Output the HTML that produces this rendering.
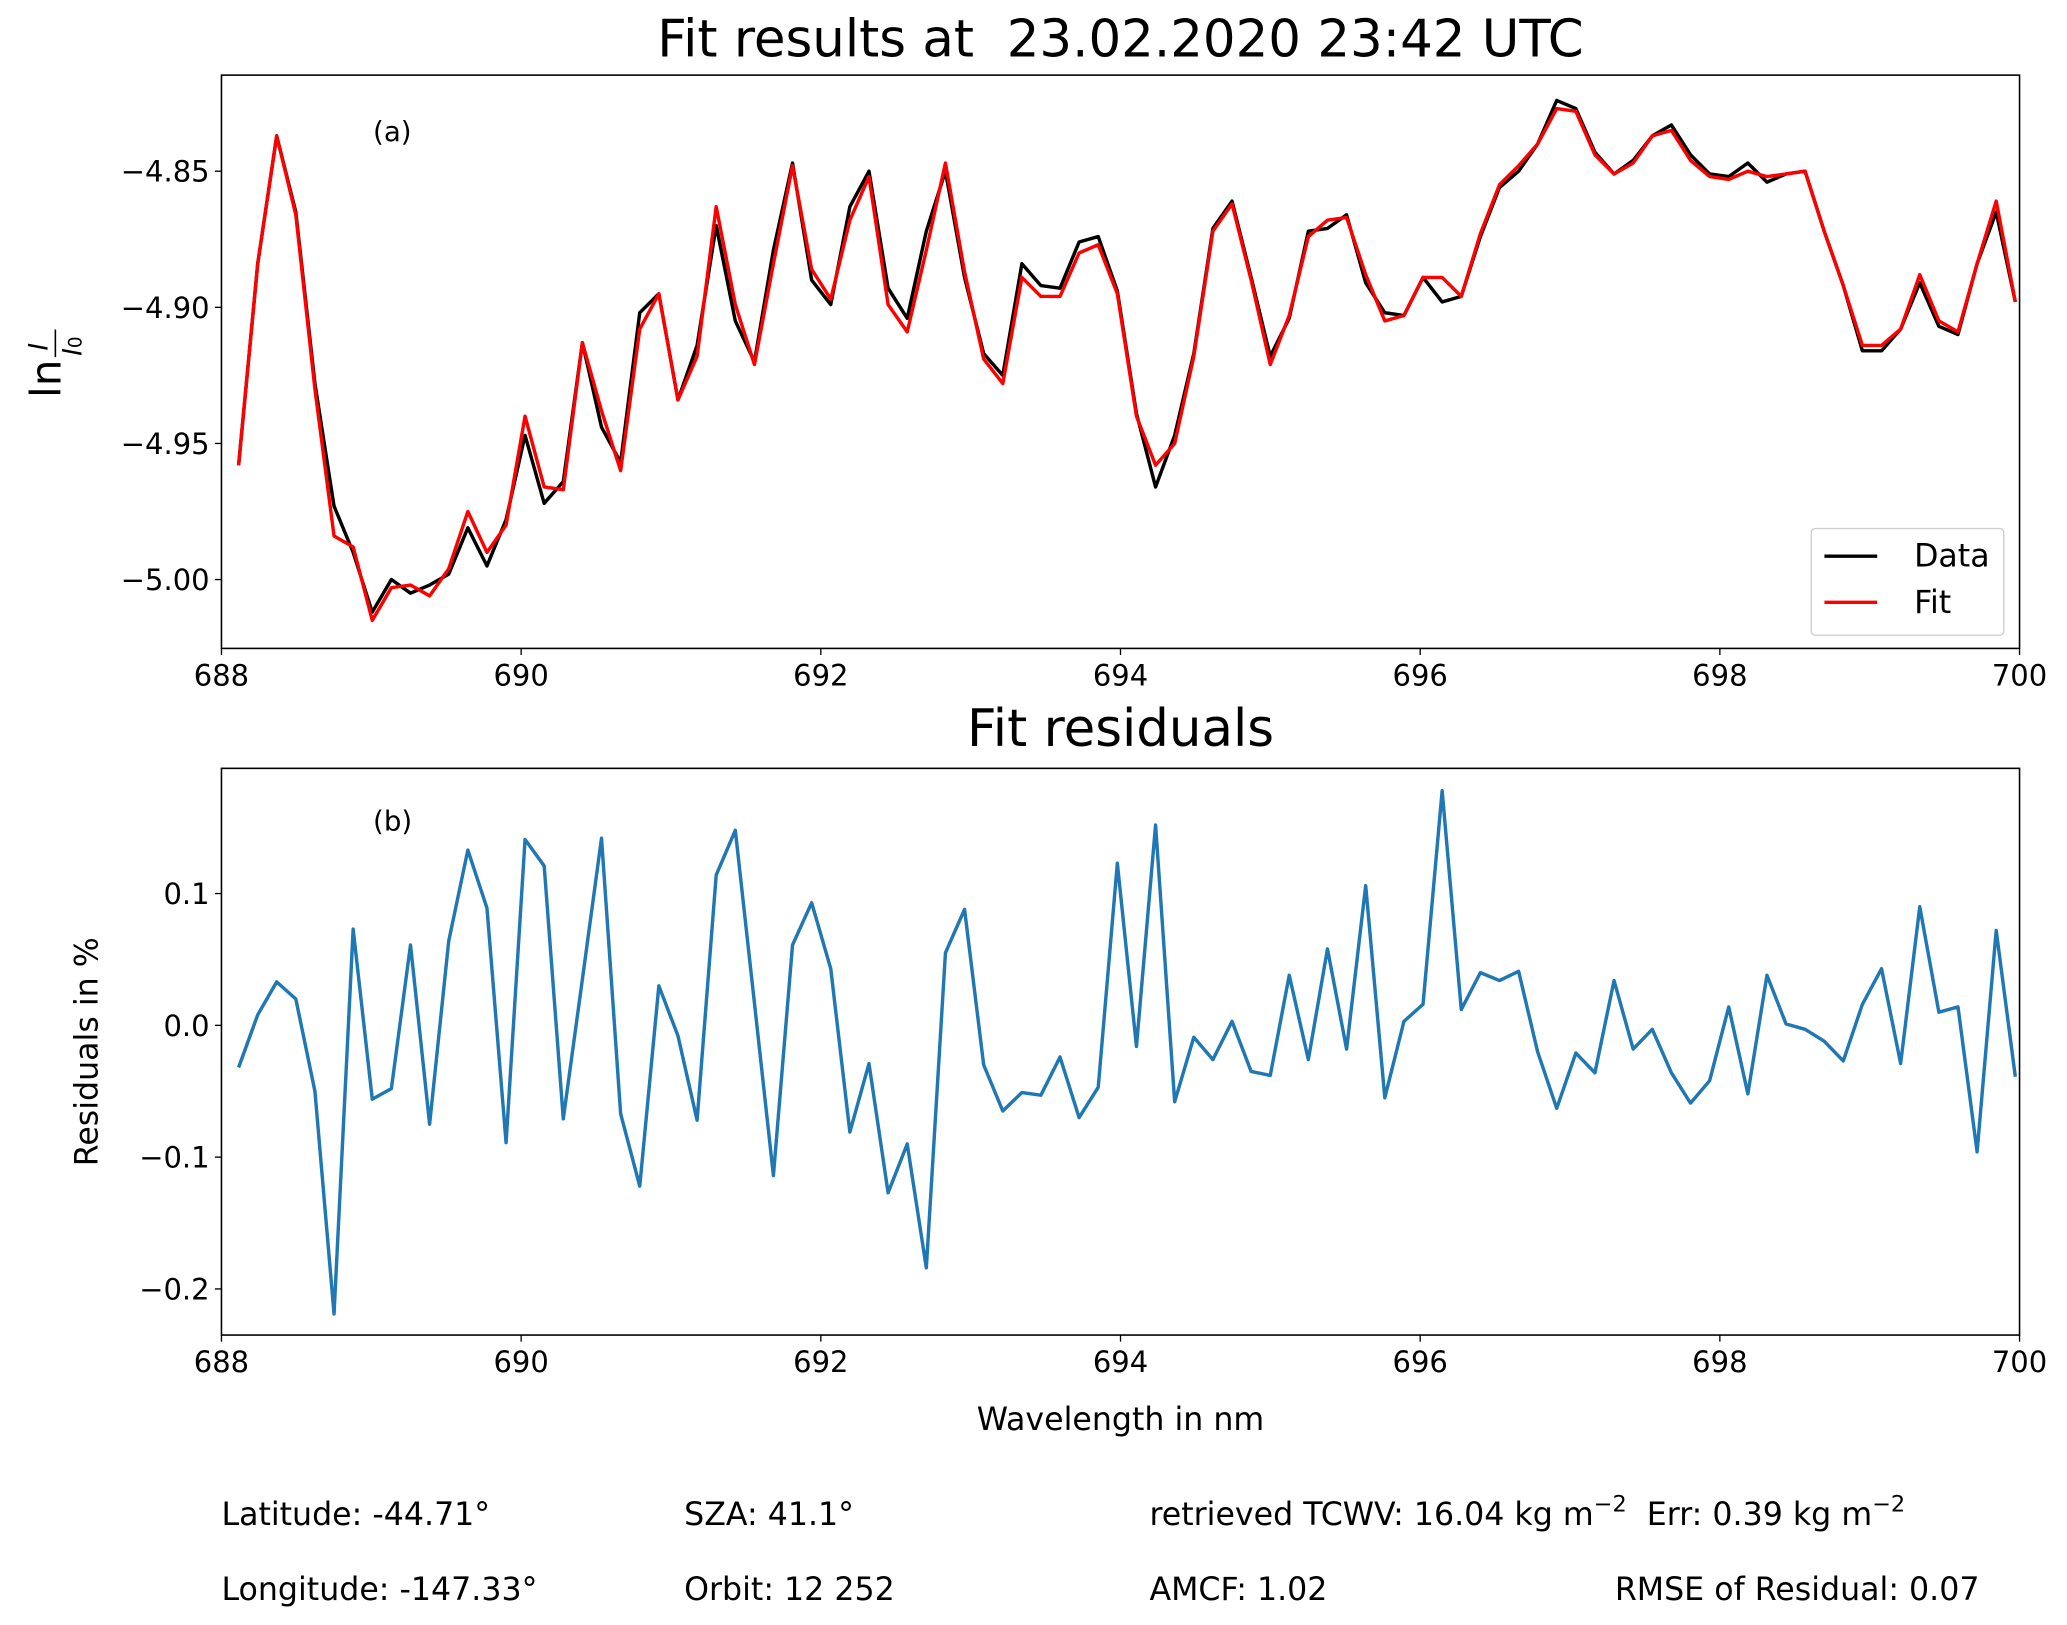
<!DOCTYPE html>
<html><head><meta charset="utf-8"><style>
html,body{margin:0;padding:0;background:#fff}
svg{display:block;font-family:"DejaVu Sans","Liberation Sans",sans-serif}
</style></head><body>
<svg id="fig" width="2067" height="1625" viewBox="0 0 1568 1233" preserveAspectRatio="none" xmlns="http://www.w3.org/2000/svg">
<rect width="1568" height="1233" fill="#fff"/>
<text x="850" y="43" font-size="39" text-anchor="middle" xml:space="preserve">Fit results at  23.02.2020 23:42 UTC</text>
<text x="850" y="566" font-size="39" text-anchor="middle">Fit residuals</text>
<g id="top"></g>
<g id="bot"></g>
<text x="283" y="107" font-size="21">(a)</text>
<text x="283" y="630" font-size="21">(b)</text>
<g transform="translate(46,302) rotate(-90)" font-size="32">
<text x="0" y="0">ln</text>
<text x="36" y="-10" font-size="20" font-style="italic">I</text>
<line x1="31" y1="-4" x2="52" y2="-4" stroke="#000" stroke-width="1.2"/>
<text x="32" y="16" font-size="20" font-style="italic">I<tspan font-size="14" font-style="normal">0</tspan></text>
</g>
<text transform="translate(74,798) rotate(-90)" font-size="24" text-anchor="middle">Residuals in %</text>
<text x="850" y="1085" font-size="24" text-anchor="middle">Wavelength in nm</text>
<g font-size="24">
<text x="168" y="1157">Latitude: -44.71°</text>
<text x="519" y="1157">SZA: 41.1°</text>
<text x="872" y="1157" xml:space="preserve">retrieved TCWV: 16.04 kg m<tspan font-size="17" dy="-10">−2</tspan><tspan dy="10">  Err: 0.39 kg m</tspan><tspan font-size="17" dy="-10">−2</tspan></text>
<text x="168" y="1214">Longitude: -147.33°</text>
<text x="519" y="1214">Orbit: 12 252</text>
<text x="872" y="1214">AMCF: 1.02</text>
<text x="1225" y="1214">RMSE of Residual: 0.07</text>
</g>
</svg>
<script>
const x0 = 688.114;
const dx = 0.1275;
const dataVals = [-4.958,-4.884,-4.837,-4.865,-4.928,-4.973,-4.990,-5.012,-5.000,-5.005,-5.002,-4.998,-4.981,-4.995,-4.978,-4.947,-4.972,-4.964,-4.913,-4.944,-4.957,-4.902,-4.895,-4.934,-4.914,-4.870,-4.905,-4.920,-4.879,-4.847,-4.890,-4.899,-4.863,-4.850,-4.893,-4.904,-4.872,-4.850,-4.889,-4.917,-4.925,-4.884,-4.892,-4.893,-4.876,-4.874,-4.894,-4.939,-4.966,-4.947,-4.917,-4.871,-4.861,-4.889,-4.918,-4.904,-4.872,-4.871,-4.866,-4.891,-4.902,-4.903,-4.889,-4.898,-4.896,-4.874,-4.856,-4.850,-4.840,-4.824,-4.827,-4.843,-4.851,-4.846,-4.837,-4.833,-4.844,-4.851,-4.852,-4.847,-4.854,-4.851,-4.850,-4.872,-4.892,-4.916,-4.916,-4.908,-4.891,-4.907,-4.910,-4.884,-4.865,-4.898];
const fitVals = [-4.958,-4.884,-4.837,-4.866,-4.930,-4.984,-4.988,-5.015,-5.003,-5.002,-5.006,-4.996,-4.975,-4.990,-4.980,-4.940,-4.966,-4.967,-4.913,-4.938,-4.960,-4.908,-4.895,-4.934,-4.918,-4.863,-4.899,-4.921,-4.884,-4.848,-4.886,-4.897,-4.868,-4.852,-4.899,-4.909,-4.879,-4.847,-4.887,-4.919,-4.928,-4.889,-4.896,-4.896,-4.880,-4.877,-4.895,-4.940,-4.958,-4.950,-4.918,-4.872,-4.862,-4.890,-4.921,-4.903,-4.874,-4.868,-4.867,-4.888,-4.905,-4.903,-4.889,-4.889,-4.896,-4.873,-4.855,-4.848,-4.840,-4.827,-4.828,-4.844,-4.851,-4.847,-4.837,-4.835,-4.846,-4.852,-4.853,-4.850,-4.852,-4.851,-4.850,-4.872,-4.892,-4.914,-4.914,-4.908,-4.888,-4.905,-4.909,-4.884,-4.861,-4.898];
const resVals = [-0.032,0.008,0.033,0.020,-0.050,-0.219,0.073,-0.056,-0.048,0.061,-0.075,0.064,0.133,0.089,-0.089,0.141,0.121,-0.071,0.035,0.142,-0.067,-0.122,0.030,-0.008,-0.072,0.114,0.148,0.017,-0.114,0.061,0.093,0.043,-0.081,-0.029,-0.127,-0.090,-0.184,0.055,0.088,-0.030,-0.065,-0.051,-0.053,-0.024,-0.070,-0.047,0.123,-0.016,0.152,-0.058,-0.009,-0.026,0.003,-0.035,-0.038,0.038,-0.026,0.058,-0.018,0.106,-0.055,0.003,0.016,0.178,0.012,0.040,0.034,0.041,-0.020,-0.063,-0.021,-0.036,0.034,-0.018,-0.003,-0.036,-0.059,-0.042,0.014,-0.052,0.038,0.001,-0.003,-0.012,-0.027,0.016,0.043,-0.029,0.090,0.010,0.014,-0.096,0.072,-0.039];
const xTicks = [688,690,692,694,696,698,700];
const yTicksTop = [-4.85,-4.90,-4.95,-5.00];
const yTicksTopLabels = ["−4.85","−4.90","−4.95","−5.00"];
const yTicksBot = [0.1,0.0,-0.1,-0.2];
const yTicksBotLabels = ["0.1","0.0","−0.1","−0.2"];

const NS="http://www.w3.org/2000/svg";
function mk(parent,tag,attrs){const e=document.createElementNS(NS,tag);for(const k in attrs)e.setAttribute(k,attrs[k]);parent.appendChild(e);return e;}
const L=168,R=1532;
const xs=v=>L+(v-688)/12*(R-L);
const wl=i=>x0+i*dx;
function panel(g,top,bot,ymin,ymax,yt,ytl){
  const ys=v=>bot-(v-ymin)/(ymax-ymin)*(bot-top);
  xTicks.forEach(t=>{
    const l=mk(g,'line',{x1:xs(t),x2:xs(t),y1:bot,y2:bot+5,stroke:'#000','stroke-width':1});
    
    
    const tx=mk(g,'text',{x:xs(t),y:bot+28,'font-size':22,'text-anchor':'middle'});tx.textContent=t;
    
    
  });
  yt.forEach((t,i)=>{
    const l=mk(g,'line',{x1:L-5,x2:L,y1:ys(t),y2:ys(t),stroke:'#000','stroke-width':1});
    
    
    const tx=mk(g,'text',{x:L-9,y:ys(t)+8,'font-size':22,'text-anchor':'end'});tx.textContent=ytl[i];
    
    
  });
  return ys;
}
function line(g,vals,ys,color,w,name){
  const d=vals.map((v,i)=>(i?'L':'M')+xs(wl(i)).toFixed(1)+' '+ys(v).toFixed(1)).join(' ');
  const p=mk(g,'path',{d:d,fill:'none',stroke:color,'stroke-width':w,'stroke-linejoin':'round'});
  
  
}
const gt=document.getElementById('top');
const yst=panel(gt,57,492,-5.0253,-4.8147,yTicksTop,yTicksTopLabels);
line(gt,dataVals,yst,'#000',2.6,'data-line');
line(gt,fitVals,yst,'#ff0000',2.6,'fit-line');
const ft=mk(gt,'rect',{x:L,y:57,width:R-L,height:435,fill:'none',stroke:'#000','stroke-width':1.2});


const lg=mk(gt,'g',{});


mk(lg,'rect',{x:1374,y:401,width:146,height:81,rx:3,fill:'#fff',stroke:'#ccc','stroke-width':1});
mk(lg,'line',{x1:1384,x2:1424,y1:422,y2:422,stroke:'#000','stroke-width':2.6});
const t1=mk(lg,'text',{x:1452,y:430,'font-size':24});t1.textContent='Data';


mk(lg,'line',{x1:1384,x2:1424,y1:457,y2:457,stroke:'#ff0000','stroke-width':2.6});
const t2=mk(lg,'text',{x:1452,y:465,'font-size':24});t2.textContent='Fit';



const gb=document.getElementById('bot');
const ysb=panel(gb,583,1013,-0.235,0.195,yTicksBot,yTicksBotLabels);
line(gb,resVals,ysb,'#1f77b4',2.6,'residual-line');
const fb=mk(gb,'rect',{x:L,y:583,width:R-L,height:430,fill:'none',stroke:'#000','stroke-width':1.2});


</script>
</body></html>
